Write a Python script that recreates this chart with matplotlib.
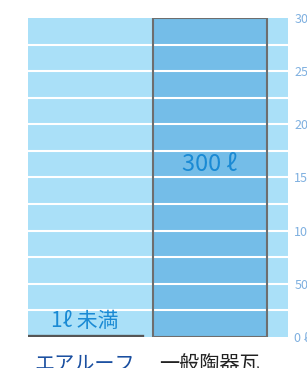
import matplotlib
matplotlib.use("Agg")
import matplotlib.pyplot as plt

plt.rcParams["font.family"] = ["Noto Sans CJK JP", "DejaVu Sans"]

categories = ["エアルーフ", "一般陶器瓦"]
values = [1, 300]
value_labels = ["1ℓ 未満", "300 ℓ"]
label_at = [5, 162]
yticks = [0, 50, 100, 150, 200, 250, 300]
ytick_labels = ["0 ℓ", "50", "100", "150", "200", "250", "300"]
grid_levels = [25, 50, 75, 100, 125, 150, 175, 200, 225, 250, 275]

W, H = 307, 368
fig = plt.figure(figsize=(W / 100, H / 100), dpi=100)
ax = fig.add_axes([28 / W, 1 - 337 / H, 260 / W, 319 / H])
ax.set_facecolor("#aae0f8")

x = [0, 1]
width = 0.915

# bar fill, then white grid, then outline on top
ax.bar(x[1], values[1], width=width, color="#74bde8", zorder=1)
ax.hlines(grid_levels, -0.46, 1.63, colors="white", linewidth=1.5, zorder=2)
ax.bar(x[1], values[1], width=width, fill=False, edgecolor="#6e6e6e",
       linewidth=1.5, zorder=3)
ax.bar(x[0], values[0], width=width, color="#555555", edgecolor="#555555",
       linewidth=2.4, zorder=3)

ax.text(x[0], label_at[0], value_labels[0], ha="center", va="bottom",
        fontsize=15, color="#1a8ad4", zorder=4)
ax.text(x[1], label_at[1], value_labels[1], ha="center", va="center",
        fontsize=17, color="#1a8ad4", zorder=4)

ax.set_xlim(-0.458, 1.63)
ax.set_ylim(0, 300)

ax.yaxis.tick_right()
ax.set_yticks(yticks)
ax.set_yticklabels(ytick_labels)
ax.tick_params(axis="y", length=0, pad=4.5, labelsize=9, labelcolor="#7fb0e0")
ax.set_xticks(x)
ax.set_xticklabels(categories)
ax.tick_params(axis="x", length=0, pad=12, labelsize=14.5)
xl = ax.get_xticklabels()
xl[0].set_color("#1a4fa0")
xl[1].set_color("#222222")

for s in ax.spines.values():
    s.set_visible(False)

fig.savefig("out.png", dpi=100)
